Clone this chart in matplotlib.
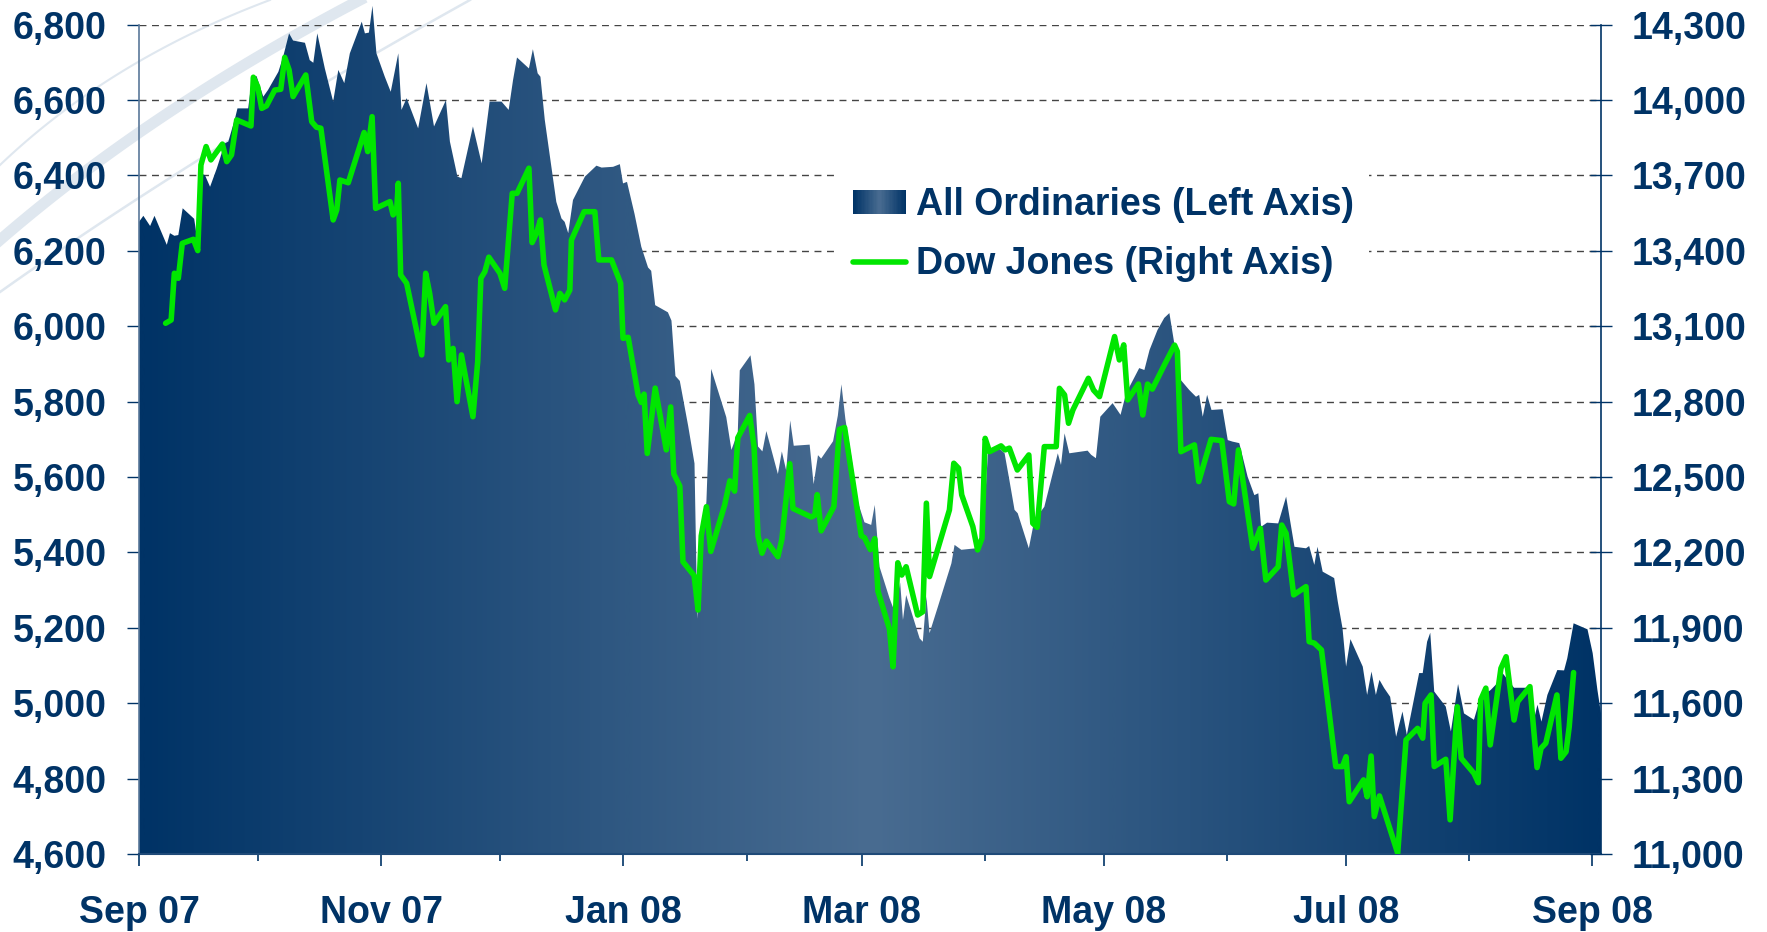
import numpy as np
import pandas as pd
import matplotlib
matplotlib.use('Agg')
import matplotlib.pyplot as plt
from matplotlib.colors import LinearSegmentedColormap
from matplotlib.patches import Polygon, Rectangle
from matplotlib.lines import Line2D
from matplotlib.legend_handler import HandlerBase
from matplotlib.transforms import Bbox, TransformedBbox
from matplotlib.ticker import FixedLocator, FuncFormatter

# x values are days since 1 Sep 2007
START = pd.Timestamp('2007-09-01')
LAST_TICK = pd.Timestamp('2008-09-01')

ao_day = [0.0, 1.1, 2.8, 3.9, 7.0, 7.8, 8.9, 9.9, 11.0, 13.9, 14.5, 15.4, 16.6, 17.9,
          19.6, 21.6, 22.5, 24.2, 24.8, 27.5, 28.4, 29.6, 31.3, 32.5, 35.1, 36.3, 37.8,
          38.8, 41.8, 43.0, 43.9, 44.9, 46.8, 48.9, 50.2, 51.7, 53.1, 56.1, 56.9, 57.9,
          58.8, 59.8, 61.9, 63.4, 65.3, 66.1, 67.4, 70.3, 72.4, 74.3, 77.3, 78.3, 80.2,
          81.2, 84.1, 86.3, 88.3, 91.3, 93.1, 94.2, 95.2, 98.2, 99.2, 100.4, 101.1, 102.2,
          105.1, 106.4, 107.2, 108.1, 109.3, 112.3, 115.2, 116.5, 119.4, 121.1, 121.9,
          122.9, 124.8, 126.5, 128.2, 129.0, 130.0, 133.2, 134.1, 135.1, 136.2, 138.3,
          139.9, 140.6, 141.6, 142.9, 144.1, 147.9, 149.2, 150.8, 151.3, 154.0, 155.0,
          155.9, 157.0, 158.0, 160.9, 161.9, 163.0, 164.0, 164.9, 168.9, 169.9, 171.0,
          171.8, 174.8, 176.0, 176.9, 177.9, 179.4, 181.0, 182.7, 184.4, 185.3, 186.5,
          189.0, 190.3, 191.7, 192.4, 193.2, 196.6, 197.4, 198.3, 199.1, 201.2, 204.6,
          205.4, 207.1, 210.8, 212.5, 213.8, 216.7, 218.0, 219.2, 220.5, 221.3, 224.1,
          225.5, 228.0, 231.4, 232.2, 233.1, 234.3, 238.9, 239.8, 241.0, 242.1, 245.2,
          247.2, 248.6, 251.9, 253.2, 254.5, 256.5, 258.2, 259.5, 260.8, 262.4, 264.5,
          266.2, 267.0, 267.9, 269.0, 270.1, 272.9, 274.2, 275.4, 277.1, 279.2, 280.9,
          281.9, 282.6, 284.1, 286.9, 288.9, 291.0, 293.9, 294.7, 296.0, 296.8, 298.1,
          301.0, 301.9, 303.1, 304.0, 305.1, 308.2, 309.3, 310.4, 311.5, 312.4, 313.6,
          315.1, 316.6, 318.2, 319.3, 322.4, 323.3, 324.4, 325.2, 326.2, 329.1, 330.4,
          332.2, 333.7, 336.2, 337.9, 340.4, 341.7, 343.4, 346.3, 349.7, 350.9, 352.2,
          353.2, 354.7, 357.2, 358.9, 359.7, 361.3, 364.8, 366.1, 367.3, 368.2]
ao_val = [6277, 6293, 6266, 6293, 6216, 6247, 6240, 6242, 6313, 6285, 6242, 6406, 6401, 6370,
          6419, 6485, 6490, 6552, 6578, 6578, 6653, 6664, 6609, 6627, 6675, 6715, 6777,
          6758, 6752, 6706, 6699, 6777, 6684, 6596, 6680, 6645, 6724, 6808, 6777, 6779,
          6850, 6724, 6662, 6622, 6724, 6574, 6605, 6525, 6645, 6530, 6600, 6490, 6397,
          6393, 6530, 6432, 6596, 6596, 6574, 6653, 6713, 6684, 6735, 6671, 6662, 6547,
          6330, 6286, 6277, 6247, 6335, 6397, 6426, 6421, 6423, 6430, 6379,
          6383, 6298, 6211, 6156, 6147, 6056, 6037, 6015, 5868, 5855, 5736,
          5636, 5224, 5398, 5535, 5887, 5759, 5672, 5718, 5883, 5923, 5846,
          5681, 5668, 5722, 5608, 5668, 5617, 5750, 5683, 5686, 5581, 5658,
          5649, 5695, 5763, 5846, 5754, 5654, 5535, 5480, 5473, 5526, 5362,
          5279, 5243, 5320, 5221, 5287, 5172, 5163, 5283, 5186, 5256, 5371,
          5420, 5407, 5411, 5438, 5663, 5676, 5663, 5592, 5513, 5504, 5411,
          5486, 5521, 5663, 5632, 5716, 5663, 5670, 5659, 5650, 5760, 5796,
          5765, 5822, 5889, 5884, 5937, 5990, 6022, 6035, 5950, 5857, 5831,
          5813, 5818, 5760, 5818, 5778, 5780, 5698, 5694, 5690, 5601, 5552,
          5557, 5468, 5479, 5477, 5548, 5415, 5411, 5417, 5367, 5415, 5349,
          5332, 5270, 5199, 5097, 5170, 5097, 5022, 5084, 5022, 5062, 5040,
          5017, 4911, 4978, 4916, 5080, 5080, 5163, 5187, 5031, 4991, 4925,
          5051, 4973, 4956, 5017, 5035, 5049, 5080, 5041, 5041, 4938, 4996,
          4951, 5022, 5088, 5087, 5119, 5212, 5196, 5133, 5035, 4973]

dj_day = [6.7, 8.1, 8.9, 9.9, 10.9, 13.7, 14.8, 15.6, 16.9, 18.1, 21.0, 22.1, 23.3, 24.6,
          28.2, 28.8, 29.9, 30.9, 32.1, 34.2, 35.7, 36.7, 37.8, 38.8, 42.0, 43.5, 44.7,
          45.8, 48.9, 49.8, 50.6, 52.7, 56.7, 57.6, 58.7, 59.6, 63.2, 64.0, 64.9, 65.3,
          65.9, 67.4, 71.2, 72.2, 73.2, 74.3, 77.2, 78.0, 79.1, 80.1, 81.2, 84.1, 85.3,
          86.1, 87.1, 88.1, 90.9, 92.1, 94.0, 95.2, 98.2, 99.0, 100.1, 101.1, 102.0,
          104.9, 106.0, 107.2, 108.5, 108.9, 112.1, 114.8, 115.8, 119.0, 121.3, 121.9,
          123.2, 125.7, 126.5, 127.2, 128.0, 130.0, 132.8, 133.9, 134.7, 136.2, 137.0,
          139.8, 140.8, 141.6, 142.9, 144.0, 147.5, 148.8, 150.0, 150.8, 153.8, 154.9,
          155.9, 156.9, 158.0, 160.9, 161.9, 163.9, 164.7, 169.3, 170.2, 170.8, 171.8,
          175.0, 176.4, 177.7, 181.9, 182.7, 184.2, 185.3, 186.1, 189.0, 189.9, 191.1,
          192.1, 193.2, 196.1, 197.4, 198.3, 199.1, 204.1, 205.2, 206.4, 207.2, 210.0,
          211.2, 212.3, 213.1, 214.2, 217.1, 218.1, 219.2, 221.2, 224.1, 225.1, 226.2,
          228.0, 231.0, 231.8, 233.1, 234.1, 235.2, 239.1, 240.4, 241.9, 245.7, 246.9,
          248.0, 249.0, 251.7, 252.8, 254.0, 255.2, 258.2, 260.8, 261.5, 262.4, 265.8,
          266.9, 270.0, 272.7, 274.6, 275.7, 276.9, 280.5, 282.4, 283.8, 286.9, 287.8,
          288.9, 290.8, 293.9, 294.7, 296.0, 297.8, 301.4, 303.1, 304.0, 304.8, 308.4,
          309.3, 310.3, 311.1, 312.4, 317.0, 319.1, 322.0, 323.3, 323.9, 325.4, 326.2,
          329.1, 330.2, 332.0, 333.0, 336.2, 337.3, 337.9, 339.2, 340.3, 343.0, 344.3,
          346.3, 347.2, 350.3, 352.1, 353.1, 354.3, 357.1, 358.1, 359.4, 360.2, 361.3]
dj_val = [13112, 13125, 13311, 13291, 13430, 13446, 13401, 13742, 13815, 13762, 13825, 13755,
          13782, 13921, 13897, 14091, 14053, 13967, 13977, 14040, 14043, 14170, 14120, 14014,
          14100, 13914, 13892, 13888, 13523, 13563, 13682, 13671, 13871, 13795, 13934, 13569,
          13596, 13543, 13565, 13669, 13304, 13271, 12986, 13311, 13231, 13112, 13178, 12966,
          13012, 12800, 12986, 12740, 12959, 13291, 13317, 13375, 13311, 13251, 13629, 13629,
          13729, 13433, 13470, 13523, 13344, 13165, 13231, 13205, 13244, 13443, 13556, 13556,
          13364, 13364, 13271, 13052, 13056, 12827, 12797, 12830, 12594, 12854, 12608, 12779,
          12512, 12464, 12163, 12108, 11971, 12266, 12382, 12204, 12389, 12485, 12444, 12656,
          12745, 12622, 12266, 12197, 12245, 12183, 12252, 12553, 12375, 12341, 12348, 12430,
          12286, 12382, 12690, 12697, 12266, 12259, 12211, 12255, 12046, 11895, 11745, 12159,
          12110, 12143, 11951, 11964, 12396, 12104, 12369, 12555, 12535, 12429, 12303, 12210,
          12256, 12654, 12601, 12624, 12608, 12615, 12528, 12588, 12316, 12300, 12621, 12621,
          12853, 12827, 12714, 12767, 12893, 12846, 12820, 13059, 12966, 13026, 12807, 12870,
          12747, 12870, 12850, 12945, 13025, 13000, 12601, 12628, 12482, 12650, 12645, 12402,
          12393, 12608, 12217, 12296, 12090, 12143, 12309, 12276, 12031, 12064, 11845, 11839,
          11812, 11348, 11348, 11387, 11208, 11295, 11228, 11390, 11149, 11231, 11003, 11454,
          11500, 11461, 11600, 11633, 11348, 11377, 11136, 11586, 11381, 11321, 11284, 11613,
          11660, 11434, 11739, 11785, 11533, 11606, 11666, 11344, 11421, 11441, 11633, 11381,
          11407, 11507, 11722]

left_ticks = list(range(4600, 6801, 200))
right_ticks = list(range(11000, 14301, 300))
labels = ['All Ordinaries (Left Axis)', 'Dow Jones (Right Axis)']

NAVY = '#003366'
GREEN = '#00e600'
W, H = 1767, 932

plt.rcParams['font.family'] = ['Liberation Sans', 'DejaVu Sans']
plt.rcParams['font.weight'] = 'bold'

cmap = LinearSegmentedColormap.from_list('ao', [NAVY, '#496c91', NAVY])

fig = plt.figure(figsize=(W / 100, H / 100), dpi=100)


def arc(p0, p1, p2, lw):
    # faint decorative swoosh in the top-left corner, pixel coords
    t = np.linspace(0, 1, 80)[:, None]
    pts = (1 - t) ** 2 * np.array(p0) + 2 * (1 - t) * t * np.array(p1) + t ** 2 * np.array(p2)
    fig.add_artist(Line2D(pts[:, 0] / W, 1 - pts[:, 1] / H, color='#dfe7ef', lw=lw,
                          zorder=-1, transform=fig.transFigure))


arc((0, 165), (110, 60), (270, 0), 1.5)
arc((0, 240), (150, 110), (360, 0), 8)
arc((0, 292), (200, 150), (470, 0), 1.8)

ax = fig.add_axes([139 / W, 1 - 854 / H, (1601 - 139) / W, (854 - 24.7) / H])
ax.patch.set_visible(False)
ax2 = ax.twinx()

xmax = ao_day[-1]

# gradient area clipped to the All Ords outline
verts = [(ao_day[0], 4600)] + list(zip(ao_day, ao_val)) + [(ao_day[-1], 4600)]
poly = Polygon(verts, closed=True, facecolor='none', edgecolor='none', transform=ax.transData)
ax.add_patch(poly)
grad = np.linspace(0, 1, 600)[None, :]
im = ax.imshow(grad, cmap=cmap, extent=[0, xmax, 4600, 6900], aspect='auto',
               origin='lower', zorder=1, interpolation='bilinear')
im.set_clip_path(poly)
im.set_clip_box(TransformedBbox(Bbox([[0, 0], [1, 1.06]]), ax.transAxes))

ax2.plot(dj_day, dj_val, color=GREEN, lw=4.0, solid_joinstyle='round',
         solid_capstyle='round', zorder=3)

ax.set_xlim(0, xmax)
ax.set_ylim(4600, 6800)
ax2.set_ylim(11000, 14300)

months = pd.date_range(START, LAST_TICK, freq='MS')
mpos = [(m - START).days for m in months]
ax.xaxis.set_major_locator(FixedLocator(mpos[::2]))
ax.xaxis.set_minor_locator(FixedLocator(mpos[1::2]))
ax.set_xticklabels([m.strftime('%b %y') for m in months[::2]])

ax.set_yticks(left_ticks)
ax2.set_yticks(right_ticks)
fmt = FuncFormatter(lambda v, p: f'{int(v):,}')
ax.yaxis.set_major_formatter(fmt)
ax2.yaxis.set_major_formatter(fmt)

ax.set_axisbelow(True)
ax.yaxis.grid(True, linestyle=(0, (5, 4)), color='#444444', lw=1.0)

for s in ['top', 'right']:
    ax.spines[s].set_visible(False)
for s in ['top', 'left', 'bottom']:
    ax2.spines[s].set_visible(False)
ax.spines['left'].set_color('#5a7899')
ax.spines['left'].set_linewidth(1.2)
ax.spines['bottom'].set_color('#1f4a78')
ax.spines['bottom'].set_linewidth(1.5)
ax2.spines['right'].set_color(NAVY)
ax2.spines['right'].set_linewidth(1.2)

ax.tick_params(axis='y', direction='out', length=8.4, width=1, color=NAVY,
               pad=14.9, labelsize=27, labelcolor=NAVY)
ax2.tick_params(axis='y', direction='inout', length=15.8, width=1, color=NAVY,
                pad=13.9, labelsize=27, labelcolor=NAVY)
ax.tick_params(axis='x', which='major', direction='out', length=8.4, width=1.2,
               color=NAVY, pad=21, labelsize=27, labelcolor=NAVY)
ax.tick_params(axis='x', which='minor', direction='out', length=5, width=1.2, color=NAVY)


class GradientHandler(HandlerBase):
    def create_artists(self, legend, orig_handle, xdescent, ydescent, width, height,
                       fontsize, trans):
        n = 40
        cols = cmap(np.linspace(0, 1, n))
        arts = []
        for i in range(n):
            arts.append(Rectangle((-xdescent + i * width / n, -ydescent), width / n * 1.05,
                                  height, facecolor=cols[i], edgecolor='none',
                                  transform=trans))
        return arts


handles = [Rectangle((0, 0), 1, 1),
           Line2D([], [], color=GREEN, lw=4.0, solid_capstyle='round')]
leg = ax2.legend(handles, labels, handler_map={Rectangle: GradientHandler()},
                 loc='upper left', bbox_to_anchor=(838 / W, 1 - 172 / H),
                 bbox_transform=fig.transFigure, frameon=True, fontsize=27,
                 handlelength=1.42, handleheight=0.6, handletextpad=0.27,
                 labelspacing=0.62, borderpad=0.4, borderaxespad=0, labelcolor=NAVY,
                 fancybox=False)
leg.get_frame().set_facecolor('white')
leg.get_frame().set_edgecolor('none')
leg.get_frame().set_alpha(1)

fig.savefig('out.png', dpi=100)
